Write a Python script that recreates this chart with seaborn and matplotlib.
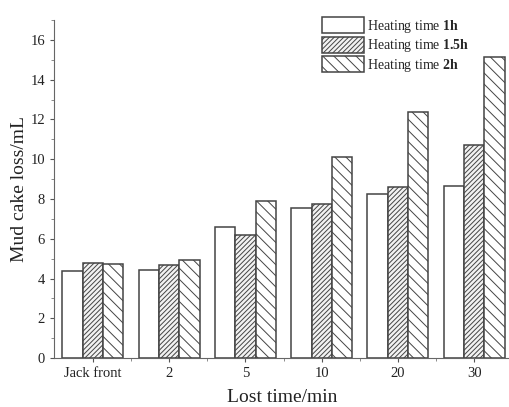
import pandas as pd
import seaborn as sns
import matplotlib.pyplot as plt
from matplotlib.ticker import MultipleLocator, FixedLocator

categories = ['Jack front', '2', '5', '10', '20', '30']
series = ['Heating time 1h', 'Heating time 1.5h', 'Heating time 2h']
t_1h = [4.36, 4.41, 6.60, 7.54, 8.24, 8.63]
t_15h = [4.80, 4.70, 6.17, 7.76, 8.58, 10.72]
t_2h = [4.75, 4.91, 7.92, 10.10, 12.39, 15.15]

rows = []
for name, vals in zip(series, [t_1h, t_15h, t_2h]):
    for c, v in zip(categories, vals):
        rows.append((c, name, v))
df = pd.DataFrame(rows, columns=['time', 'heating', 'loss'])

sns.set_theme(style='ticks')
plt.rcParams['font.family'] = ['Liberation Serif', 'DejaVu Serif']
plt.rcParams['mathtext.fontset'] = 'custom'
plt.rcParams['mathtext.bf'] = 'Liberation Serif:bold'
plt.rcParams['mathtext.rm'] = 'Liberation Serif'
plt.rcParams['hatch.linewidth'] = 0.7

fig = plt.figure(figsize=(5.1, 4.07), dpi=100)
ax = fig.add_axes([0.106, 0.120, 0.894, 0.831])

sns.barplot(data=df, x='time', y='loss', hue='heating', order=categories,
            hue_order=series, width=0.8, ax=ax, legend=False,
            palette=['white', '#f2f2f2', 'white'], saturation=1)

hatches = ['', '///////', '\\\\\\']
for cont, h in zip(ax.containers, hatches):
    for p in cont.patches:
        p.set_hatch(h)
        p.set_edgecolor('#444444')
        p.set_linewidth(1.1)

labels = [r'Heating time $\mathbf{1h}$', r'Heating time $\mathbf{1.5h}$',
          r'Heating time $\mathbf{2h}$']
ax.legend(ax.containers, labels, frameon=False, fontsize=10,
          handlelength=3.0, handleheight=1.4, labelspacing=0.12,
          handletextpad=0.2, loc='upper left',
          bbox_to_anchor=(0.607, 0.988), bbox_transform=fig.transFigure)

ax.set_xlim(-0.51, 5.47)
ax.set_ylim(0, 17)
ax.yaxis.set_major_locator(MultipleLocator(2))
ax.yaxis.set_minor_locator(MultipleLocator(1))
ax.xaxis.set_minor_locator(FixedLocator([0.5, 1.5, 2.5, 3.5, 4.5]))
ax.tick_params(axis='both', which='major', labelsize=10.5, length=3,
               width=0.8, color='#555555', labelcolor='#222222')
ax.tick_params(axis='both', which='minor', length=2, width=0.6, color='#777777')
ax.set_xlabel('Lost time/min', fontsize=14, color='#222222', labelpad=6)
ax.set_ylabel('Mud cake loss/mL', fontsize=14, color='#222222', labelpad=2)
sns.despine(ax=ax)
for s in ['left', 'bottom']:
    ax.spines[s].set_color('#666666')
    ax.spines[s].set_linewidth(0.8)

fig.savefig('out.png', dpi=100)
